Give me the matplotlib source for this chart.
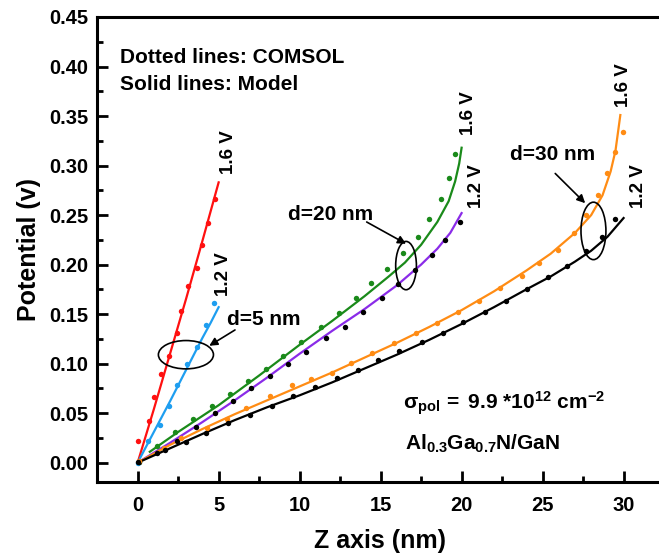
import matplotlib
matplotlib.use('Agg')
import matplotlib.pyplot as plt
from matplotlib.patches import Ellipse
from matplotlib.ticker import MultipleLocator, FormatStrFormatter

plt.rcParams['font.family'] = ['Liberation Sans', 'DejaVu Sans']
plt.rcParams['font.weight'] = 'bold'
plt.rcParams['mathtext.fontset'] = 'custom'
plt.rcParams['mathtext.rm'] = 'Liberation Sans:bold'
plt.rcParams['mathtext.bf'] = 'Liberation Sans:bold'
plt.rcParams['mathtext.it'] = 'Liberation Serif'

# --- model (solid) curves ---
z_d5_16 = [0, 1, 2, 3, 4, 5.0]
v_d5_16 = [0, 0.054, 0.110, 0.166, 0.224, 0.283]
z_d5_12 = [0, 1, 2, 3, 4, 4.5, 5.0]
v_d5_12 = [0, 0.031, 0.062, 0.094, 0.126, 0.141, 0.157]

z_d20_16 = [0.75, 2.5, 5, 7.5, 10, 12, 14, 15.5, 16.5, 17.5, 18.5, 19.2, 19.6, 19.85, 20.0]
v_d20_16 = [0.011, 0.031, 0.058, 0.088, 0.119, 0.143, 0.168, 0.188, 0.202, 0.220, 0.243, 0.264, 0.284,
            0.302, 0.318]
z_d20_12 = [0, 2, 4, 6, 8, 10, 12, 14, 16, 17.5, 18.5, 19.3, 20.0]
v_d20_12 = [0, 0.020, 0.041, 0.063, 0.086, 0.110, 0.133, 0.155, 0.179, 0.200, 0.216, 0.232, 0.252]

z_d30_16 = [0, 2, 4, 6, 8, 10, 12, 14, 16, 18, 20, 22, 24, 25.5, 27, 28, 28.7, 29.2, 29.5, 29.8]
v_d30_16 = [0, 0.018, 0.034, 0.049, 0.063, 0.077, 0.091, 0.106, 0.121, 0.137, 0.154, 0.173, 0.194,
            0.211, 0.232, 0.250, 0.270, 0.294, 0.315, 0.351]
z_d30_12 = [0, 2, 4, 6, 8, 10, 12, 14, 16, 18, 20, 22, 24, 25.5, 27, 28, 29, 30]
v_d30_12 = [0, 0.0145, 0.029, 0.043, 0.056, 0.068, 0.081, 0.095, 0.109, 0.124, 0.140, 0.157, 0.175,
            0.188, 0.203, 0.214, 0.228, 0.247]

# --- COMSOL (dotted) points ---
zc_d5_16 = [0.0, 0.7, 1.0, 1.45, 1.95, 2.4, 2.65, 3.1, 3.65, 3.95, 4.35, 4.75]
vc_d5_16 = [0.022, 0.042, 0.066, 0.090, 0.108, 0.131, 0.153, 0.178, 0.197, 0.220, 0.242, 0.266]
zc_d5_12 = [0.0, 0.65, 1.35, 1.95, 2.45, 3.05, 3.65, 4.2, 4.7]
vc_d5_12 = [0.0, 0.022, 0.038, 0.057, 0.078, 0.100, 0.117, 0.139, 0.161]

zc_d20_16 = [0.1, 1.2, 2.3, 3.4, 4.6, 5.7, 6.8, 7.9, 9.0, 10.1, 11.3, 12.4, 13.5, 14.4,
             15.4, 16.4, 17.3, 18.0, 18.7, 19.2, 19.6]
vc_d20_16 = [0.001, 0.017, 0.031, 0.044, 0.057, 0.069, 0.082, 0.095, 0.108, 0.122, 0.137, 0.151, 0.166, 0.181,
             0.196, 0.212, 0.228, 0.246, 0.266, 0.287, 0.312]
zc_d20_12 = [0.1, 1.2, 2.4, 3.6, 4.8, 5.9, 7.0, 8.2, 9.3, 10.4, 11.6, 12.8, 13.9, 15.1,
             16.1, 17.1, 18.2, 19.0, 19.9]
vc_d20_12 = [0.001, 0.010, 0.022, 0.036, 0.050, 0.062, 0.075, 0.087, 0.100, 0.112, 0.126, 0.137, 0.152, 0.166,
             0.180, 0.195, 0.210, 0.225, 0.243]

zc_d30_16 = [0.1, 1.6, 2.7, 4.3, 5.5, 6.7, 8.2, 9.5, 10.7, 12.0, 13.2, 14.45, 15.85, 17.2,
             18.5, 19.75, 21.1, 22.4, 23.7, 24.8, 25.95, 26.95, 27.7, 28.4, 29.0, 29.5, 29.95]
vc_d30_16 = [0.002, 0.015, 0.025, 0.035, 0.044, 0.055, 0.067, 0.078, 0.084, 0.091, 0.101, 0.111, 0.121, 0.131,
             0.141, 0.152, 0.163, 0.176, 0.188, 0.202, 0.215, 0.232, 0.250, 0.270, 0.292, 0.314, 0.334]
zc_d30_12 = [0.05, 1.7, 3.0, 4.25, 5.6, 6.95, 8.3, 9.6, 10.95, 12.3, 13.6, 14.85, 16.15, 17.55,
             18.85, 20.1, 21.45, 22.75, 24.05, 25.35, 26.5, 27.7, 28.65, 29.5]
vc_d30_12 = [0.001, 0.013, 0.021, 0.030, 0.040, 0.048, 0.057, 0.067, 0.076, 0.085, 0.094, 0.104, 0.113, 0.122,
             0.131, 0.142, 0.152, 0.163, 0.175, 0.187, 0.199, 0.214, 0.228, 0.246]

RED, BLUE, GREEN = '#ff1010', '#1e9ef0', '#1a8a1a'
PURPLE, ORANGE, BLACK = '#8a2be8', '#ff8c14', '#000000'

fig = plt.figure(figsize=(6.59, 5.57), dpi=100)
ax = fig.add_axes([0.1467, 0.1347, 0.861, 0.8348])

curves = [
    (z_d5_16, v_d5_16, zc_d5_16, vc_d5_16, RED, RED),
    (z_d5_12, v_d5_12, zc_d5_12, vc_d5_12, BLUE, BLUE),
    (z_d20_16, v_d20_16, zc_d20_16, vc_d20_16, GREEN, GREEN),
    (z_d20_12, v_d20_12, zc_d20_12, vc_d20_12, PURPLE, BLACK),
    (z_d30_16, v_d30_16, zc_d30_16, vc_d30_16, ORANGE, ORANGE),
    (z_d30_12, v_d30_12, zc_d30_12, vc_d30_12, BLACK, BLACK),
]
for zm, vm, zc, vc, lc, dc in curves:
    ax.plot(zm, vm, color=lc, lw=1.6, zorder=3)
    ax.plot(zc, vc, ls='none', marker='o', ms=3.9, color=dc, mec='none', zorder=4)

ax.set_xlim(-2.53, 32.5)
ax.set_ylim(-0.0195, 0.45)
ax.xaxis.set_major_locator(MultipleLocator(5))
ax.xaxis.set_minor_locator(MultipleLocator(2.5))
ax.yaxis.set_major_locator(MultipleLocator(0.05))
ax.yaxis.set_minor_locator(MultipleLocator(0.025))
ax.yaxis.set_major_formatter(FormatStrFormatter('%.2f'))
ax.tick_params(which='both', direction='in', top=False, right=False, width=2, labelsize=14.5)
ax.tick_params(which='major', length=8)
ax.tick_params(which='minor', length=4)
ax.tick_params(axis='x', pad=10)
ax.tick_params(axis='y', pad=6)
for sp in ax.spines.values():
    sp.set_linewidth(2.2)

ax.set_xlabel('Z axis (nm)', fontsize=18, fontweight='bold', labelpad=10)
ax.set_ylabel('Potential (v)', fontsize=18, fontweight='bold', labelpad=6)

ax.text(-1.09, 0.404, 'Dotted lines: COMSOL', fontsize=15, fontweight='bold', va='baseline')
ax.text(-1.09, 0.3765, 'Solid lines: Model', fontsize=15, fontweight='bold', va='baseline')

# voltage labels
for x, y, s in [(5.60, 0.314, '1.6 V'), (5.29, 0.190, '1.2 V'),
                (20.42, 0.353, '1.6 V'), (20.94, 0.279, '1.2 V'),
                (30.0, 0.3815, '1.6 V'), (30.92, 0.2795, '1.2 V')]:
    ax.text(x, y, s, rotation=90, ha='center', va='center', fontsize=13.5, fontweight='bold')

# thickness annotations
for (cx, cy, w, h), (tx, ty), (ax0, ay0), (hx, hy), label in [
        ((2.98, 0.109, 3.40, 0.0286), (5.50, 0.139), (6.01, 0.134), (4.42, 0.118), 'd=5 nm'),
        ((16.57, 0.199, 1.28, 0.0488), (9.3, 0.245), (14.14, 0.243), (16.57, 0.221), 'd=20 nm'),
        ((28.14, 0.234, 1.54, 0.058), (23.0, 0.3057), (25.78, 0.292), (27.63, 0.262), 'd=30 nm')]:
    ax.add_patch(Ellipse((cx, cy), w, h, fill=False, ec='k', lw=1.2, zorder=5))
    ax.annotate('', xy=(hx, hy), xytext=(ax0, ay0),
                arrowprops=dict(arrowstyle='-|>', color='k', lw=1.2, mutation_scale=12,
                                shrinkA=0, shrinkB=0))
    ax.text(tx, ty, label, fontsize=15, fontweight='bold', va='baseline')

ax.text(16.4, 0.053, r'$\mathregular{\sigma}_{\mathbf{pol}}\mathbf{\,=\ 9.9\ {*}10^{12}\ cm^{-2}}$',
        fontsize=15, va='baseline')
ax.text(16.5, 0.0128, r'$\mathbf{Al_{0.3}Ga_{0.7}N/GaN}$', fontsize=15, va='baseline')

fig.savefig('out.png', dpi=100)
